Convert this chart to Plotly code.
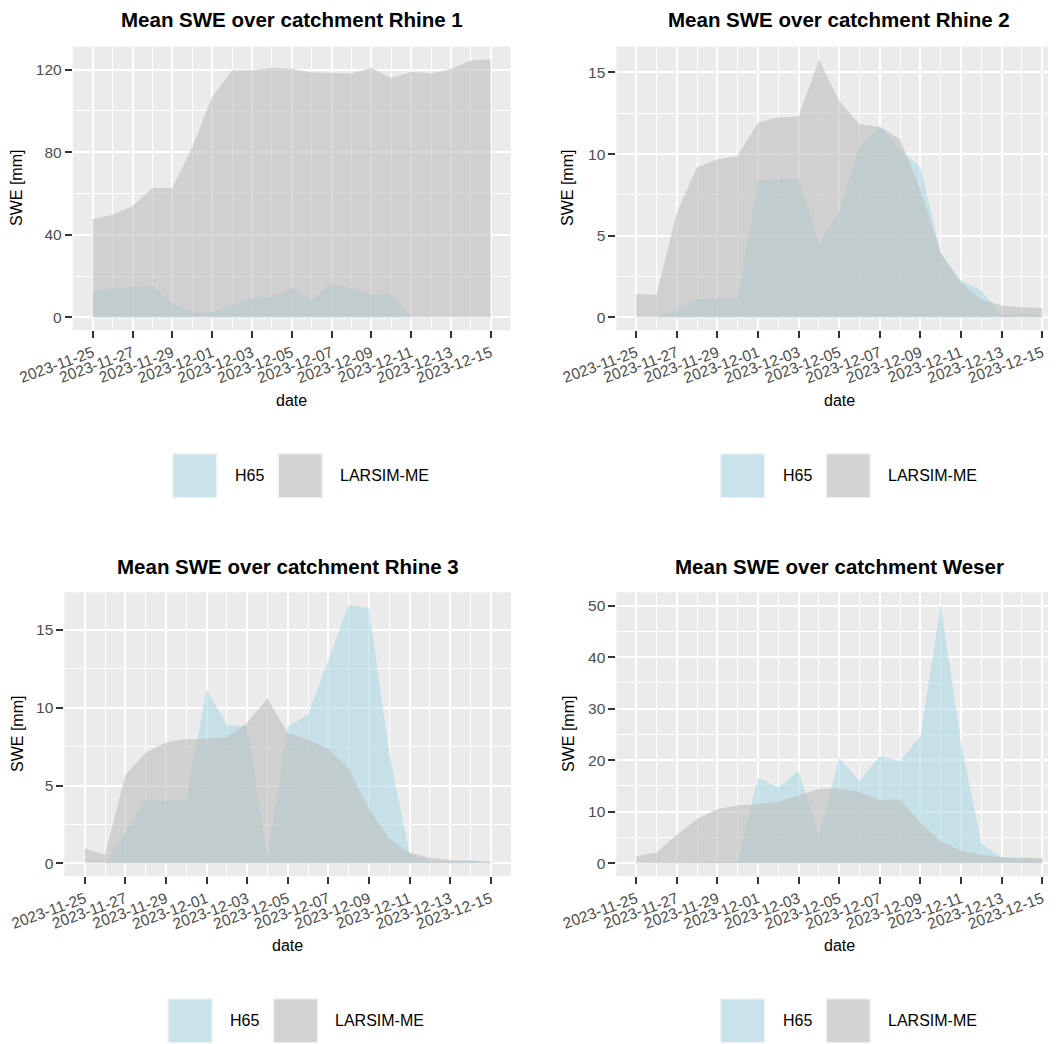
import plotly.graph_objects as go
import pandas as pd

# ---------------- data ----------------
dates = pd.date_range("2023-11-25", "2023-12-15", freq="D")
x_tick_labels = ["2023-11-25", "2023-11-27", "2023-11-29", "2023-12-01", "2023-12-03",
                 "2023-12-05", "2023-12-07", "2023-12-09", "2023-12-11", "2023-12-13",
                 "2023-12-15"]

catchments = ["Rhine 1", "Rhine 2", "Rhine 3", "Weser"]

h65_rhine1 = [12.6, 14.0, 14.7, 15.3, 6.8, 2.3, 2.6, 5.8, 9.2, 9.7, 14.5, 8.1, 16.8,
              14.0, 10.8, 11.3, 0.0, None, None, None, None]
larsim_rhine1 = [47.6, 49.7, 53.9, 62.7, 62.7, 82.3, 106.8, 119.7, 119.7, 121.0, 120.5,
                 118.7, 118.5, 118.2, 121.0, 116.0, 119.0, 118.2, 120.3, 124.5, 125.0]

h65_rhine2 = [0.0, 0.0, 0.45, 1.1, 1.15, 1.15, 8.34, 8.48, 8.48, 4.5, 6.5, 10.5, 11.68,
              10.3, 9.2, 3.93, 2.25, 1.64, 0.08, 0.25, 0.08]
larsim_rhine2 = [1.43, 1.37, 6.4, 9.2, 9.67, 9.88, 11.93, 12.25, 12.3, 15.8, 13.26, 11.82,
                 11.68, 10.9, 7.8, 3.93, 2.1, 1.1, 0.72, 0.61, 0.57]

h65_rhine3 = [0.0, 0.0, 2.0, 4.07, 4.03, 4.03, 11.2, 8.9, 8.8, 0.43, 8.78, 9.57, 13.06,
              16.6, 16.4, 7.07, 0.64, 0.1, 0.1, 0.21, 0.09]
larsim_rhine3 = [0.96, 0.54, 5.68, 7.1, 7.77, 7.99, 8.0, 8.1, 9.04, 10.6, 8.4, 7.94, 7.35,
                 6.1, 3.53, 1.6, 0.69, 0.36, 0.21, 0.15, 0.09]

h65_weser = [0.0, 0.0, 0.1, 0.26, 0.3, 0.3, 16.6, 14.7, 17.9, 5.2, 20.5, 15.95, 20.8,
             19.86, 24.7, 50.1, 23.4, 3.8, 1.17, 0.9, 0.78]
larsim_weser = [1.43, 2.08, 5.53, 8.6, 10.55, 11.26, 11.4, 12.0, 13.15, 14.45, 14.58, 13.8,
                12.24, 12.37, 7.8, 4.23, 2.47, 1.63, 1.17, 1.04, 1.04]

h65_series = [h65_rhine1, h65_rhine2, h65_rhine3, h65_weser]
larsim_series = [larsim_rhine1, larsim_rhine2, larsim_rhine3, larsim_weser]

y_major = [40, 5, 5, 10]
y_minor = [20, 2.5, 2.5, 5]

# ---------------- style / layout ----------------
OFF = 8  # page body margin of the browser
W, H = 1056 - OFF, 1044 - OFF
FONT = "Liberation Sans, Arial, sans-serif"
BLUE = "rgba(173,216,230,0.6)"
GREY = "rgba(190,190,190,0.6)"
TICKSIZE = 15.5


def px(x):
    return (x - OFF) / W


def py(y):
    return 1 - (y - OFF) / H


# panel geometry in window pixels: (left, right, top, bottom, xpad_left_days, xpad_right_days)
panels = [
    (72.8, 510.6, 46.5, 330.2, 1.0, 1.0),
    (616.4, 1056.0, 46.5, 330.2, 0.97, 0.675),
    (64.4, 511.0, 592.2, 876.2, 1.0, 1.0),
    (616.4, 1056.0, 592.2, 876.2, 0.97, 0.675),
]

fig = go.Figure()
DAY = pd.Timedelta(days=1)

for i, (name, h65, lar) in enumerate(zip(catchments, h65_series, larsim_series)):
    n = i + 1
    xref = "x" if n == 1 else f"x{n}"
    yref = "y" if n == 1 else f"y{n}"
    fig.add_trace(go.Scatter(x=dates, y=h65, mode="lines", line=dict(width=0),
                             fill="tozeroy", fillcolor=BLUE, name="H65",
                             showlegend=False, xaxis=xref, yaxis=yref))
    fig.add_trace(go.Scatter(x=dates, y=lar, mode="lines", line=dict(width=0),
                             fill="tozeroy", fillcolor=GREY, name="LARSIM-ME",
                             showlegend=False, xaxis=xref, yaxis=yref))

    left, right, top, bottom, padl, padr = panels[i]
    ymax = max(v for v in h65 + lar if v is not None)
    yr = [-0.05 * ymax, 1.05 * ymax]
    xr = [dates[0] - padl * DAY, dates[-1] + padr * DAY]

    xa = dict(domain=[px(left), min(1.0, px(right))], range=xr, type="date",
              tickmode="array", tickvals=pd.to_datetime(x_tick_labels), ticktext=x_tick_labels,
              tickangle=-20, ticks="outside", ticklen=7, tickwidth=2, tickcolor="#333333",
              tickfont=dict(family=FONT, size=TICKSIZE, color="#4d4d4d"),
              showgrid=True, gridcolor="white", gridwidth=1.6,
              minor=dict(dtick=86400000, tick0="2023-11-24", showgrid=True,
                         gridcolor="white", gridwidth=0.8, ticks=""),
              zeroline=False, showline=False, anchor=yref, automargin=False,
              fixedrange=True)
    ya = dict(domain=[py(bottom), py(top)], range=yr, tickmode="linear", tick0=0,
              dtick=y_major[i], ticks="outside", ticklen=7, tickwidth=2, tickcolor="#333333",
              tickfont=dict(family=FONT, size=TICKSIZE, color="#4d4d4d"),
              showgrid=True, gridcolor="white", gridwidth=1.6,
              minor=dict(dtick=y_minor[i], tick0=0, showgrid=True, gridcolor="white",
                         gridwidth=0.8, ticks=""),
              zeroline=False, showline=False, anchor=xref, automargin=False,
              fixedrange=True)
    fig.layout["xaxis" if n == 1 else f"xaxis{n}"] = xa
    fig.layout["yaxis" if n == 1 else f"yaxis{n}"] = ya

# ---------------- annotations (titles, axis titles, legends) ----------------
annotations = []
shapes = []

title_pos = [(291.5, 20), (839, 20), (287.7, 566), (839, 566)]
date_pos = [(291.5, 400), (839, 400), (287.7, 945), (839, 945)]
swe_pos = [(17, 188), (568, 188), (17, 734), (568, 734)]
legend_left = [172, 720, 167.3, 720]
legend_top = [453, 453, 998, 998]

for i, name in enumerate(catchments):
    tx, ty = title_pos[i]
    annotations.append(dict(text=f"Mean SWE over catchment {name}", x=px(tx), y=py(ty),
                            xref="paper", yref="paper", showarrow=False,
                            xanchor="center", yanchor="middle",
                            font=dict(family=FONT, size=20.5, color="black", weight="bold")))
    dx, dy = date_pos[i]
    annotations.append(dict(text="date", x=px(dx), y=py(dy), xref="paper", yref="paper",
                            showarrow=False, xanchor="center", yanchor="middle",
                            font=dict(family=FONT, size=16, color="black")))
    sx, sy = swe_pos[i]
    annotations.append(dict(text="SWE [mm]", x=px(sx), y=py(sy), xref="paper", yref="paper",
                            showarrow=False, xanchor="center", yanchor="middle", textangle=-90,
                            font=dict(family=FONT, size=16, color="black")))
    # legend
    lx, ly = legend_left[i], legend_top[i]
    key = 45.5
    for k, (col, lab, off, toff) in enumerate([(BLUE, "H65", 0, 61),
                                               (GREY, "LARSIM-ME", 105.5, 166)]):
        shapes.append(dict(type="rect", xref="paper", yref="paper",
                           x0=px(lx + off), x1=px(lx + off + key),
                           y0=py(ly + key), y1=py(ly), fillcolor="#f2f2f2",
                           line=dict(width=0), layer="above"))
        shapes.append(dict(type="rect", xref="paper", yref="paper",
                           x0=px(lx + off + 1.5), x1=px(lx + off + key - 1.5),
                           y0=py(ly + key - 1.5), y1=py(ly + 1.5), fillcolor=col,
                           line=dict(width=0), layer="above"))
        annotations.append(dict(text=lab, x=px(lx + toff), y=py(ly + key / 2),
                                xref="paper", yref="paper", showarrow=False,
                                xanchor="left", yanchor="middle",
                                font=dict(family=FONT, size=16, color="black")))

fig.update_layout(width=W, height=H, margin=dict(l=0, r=0, t=0, b=0),
                  paper_bgcolor="white", plot_bgcolor="#ebebeb", showlegend=False,
                  annotations=annotations, shapes=shapes)

fig.write_html("out.html")
